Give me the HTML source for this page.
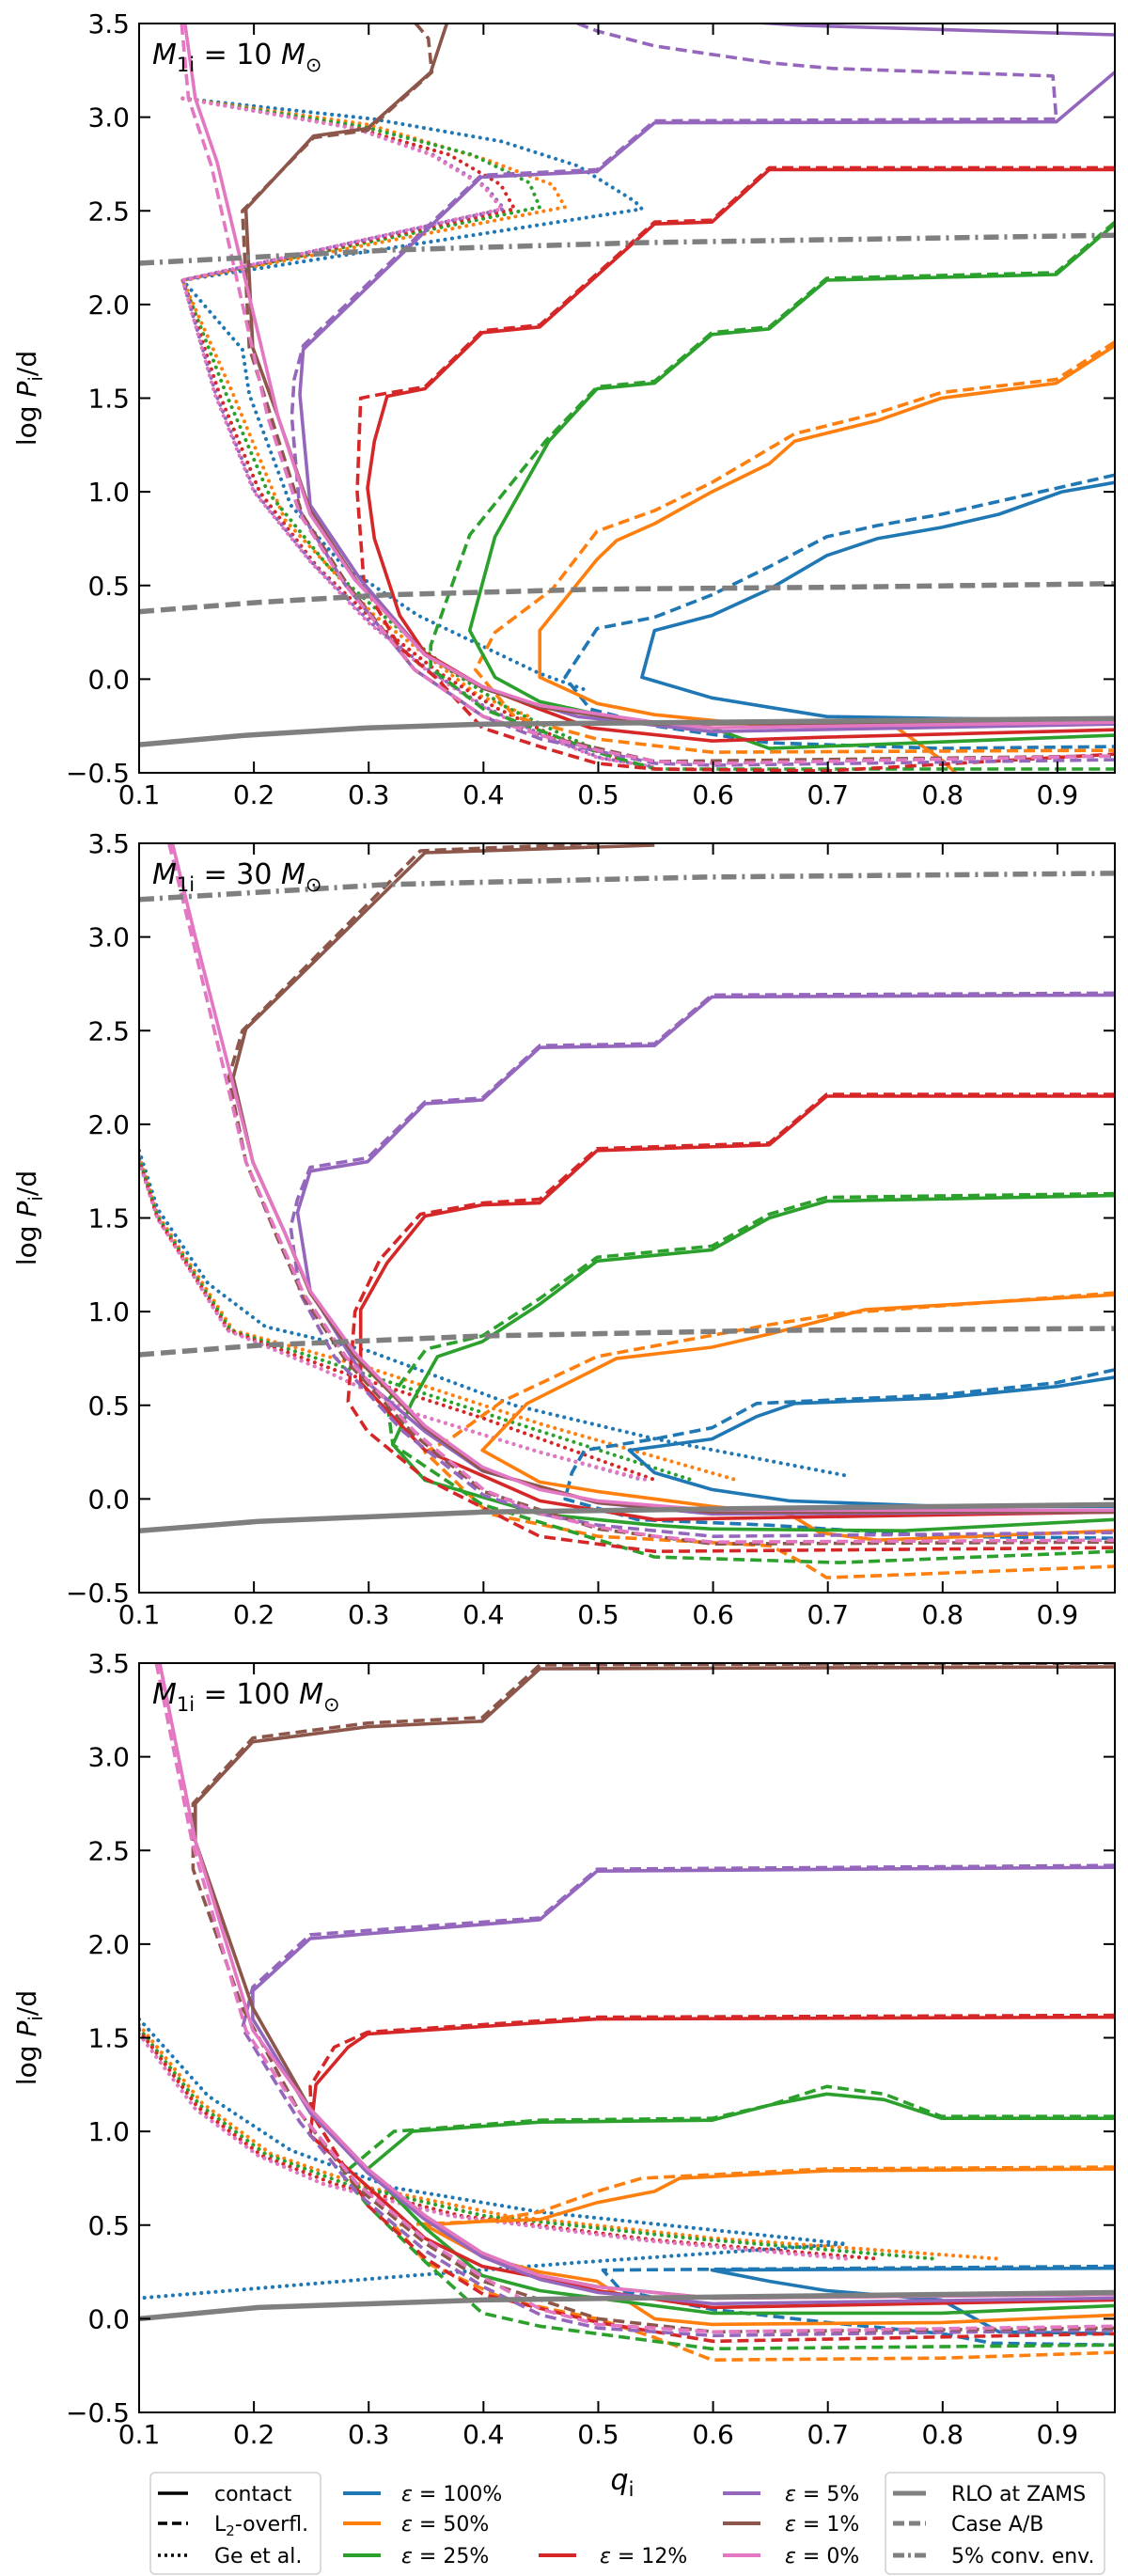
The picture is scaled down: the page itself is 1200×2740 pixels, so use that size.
<!DOCTYPE html>
<html><head><meta charset="utf-8">
<style>
html,body{margin:0;padding:0;background:#fff;}
svg{display:block;font-family:"DejaVu Sans","Liberation Sans",sans-serif;}
</style></head>
<body>
<svg id="fig" width="1200" height="2740" viewBox="0 0 1200 2740" xmlns="http://www.w3.org/2000/svg"></svg>
<script>
// ---------- data: x ticks / y ticks ----------
const xTicks = [0.1,0.2,0.3,0.4,0.5,0.6,0.7,0.8,0.9];
const yTicks = [-0.5,0.0,0.5,1.0,1.5,2.0,2.5,3.0,3.5];
const panelMasses = [10,30,100];

// ---------- panel 1 (10 Msun) ----------
const p1_zams = [[.1,-.35],[.193,-.3],[.299,-.26],[.399,-.24],[.599,-.23],[.95,-.21]];
const p1_caseAB = [[.1,.36],[.204,.41],[.316,.45],[.5,.48],[.7,.49],[.95,.51]];
const p1_conv = [[.1,2.22],[.316,2.29],[.538,2.33],[.95,2.37]];
const p1_blue_c = [[.95,1.05],[.904,1.0],[.849,.88],[.799,.81],[.743,.75],[.699,.66],[.649,.48],[.599,.34],[.549,.26],[.538,.01],[.599,-.1],[.649,-.15],[.699,-.2],[.799,-.21],[.95,-.22]];
const p1_blue_l = [[.95,1.09],[.9,1.02],[.799,.88],[.743,.82],[.699,.76],[.649,.6],[.599,.45],[.549,.33],[.499,.27],[.471,.01],[.493,-.16],[.55,-.25],[.649,-.34],[.799,-.37],[.95,-.36]];
const p1_blue_g = [[.138,3.1],[.304,2.99],[.416,2.87],[.482,2.74],[.532,2.55],[.538,2.51],[.138,2.13],[.19,1.76],[.196,1.52],[.232,.93],[.277,.61],[.343,.34],[.449,.03],[.49,-.06]];
const p1_orange_c = [[.95,1.78],[.899,1.58],[.799,1.5],[.743,1.38],[.671,1.27],[.649,1.15],[.599,1.0],[.549,.83],[.516,.74],[.499,.64],[.449,.26],[.449,.01],[.499,-.13],[.549,-.19],[.649,-.25],[.76,-.26],[.799,-.43],[.82,-.55]];
const p1_orange_l = [[.95,1.8],[.899,1.6],[.799,1.53],[.743,1.42],[.671,1.31],[.599,1.05],[.549,.9],[.499,.79],[.46,.48],[.41,.25],[.393,.05],[.427,-.2],[.499,-.32],[.599,-.39],[.95,-.38]];
const p1_orange_g = [[.138,3.1],[.3,2.96],[.404,2.77],[.46,2.64],[.471,2.52],[.138,2.13],[.182,1.52],[.227,.85],[.305,.34],[.394,-.08],[.44,-.2]];
const p1_green_c = [[.95,2.43],[.899,2.16],[.699,2.13],[.649,1.87],[.599,1.84],[.549,1.58],[.499,1.55],[.457,1.27],[.41,.76],[.388,.26],[.41,.01],[.449,-.12],[.516,-.21],[.599,-.26],[.649,-.37],[.95,-.3]];
const p1_green_l = [[.95,2.44],[.899,2.17],[.699,2.14],[.649,1.88],[.599,1.85],[.549,1.59],[.499,1.56],[.454,1.27],[.388,.77],[.354,.18],[.354,.06],[.4,-.16],[.499,-.39],[.55,-.48],[.95,-.48]];
const p1_green_g = [[.138,3.1],[.295,2.95],[.39,2.8],[.44,2.65],[.449,2.52],[.138,2.13],[.176,1.52],[.212,1.0],[.265,.6],[.32,.3],[.37,.05],[.42,-.15],[.47,-.3],[.5,-.38]];
const p1_red_c = [[.95,2.72],[.649,2.72],[.599,2.44],[.549,2.43],[.449,1.88],[.399,1.85],[.349,1.55],[.316,1.51],[.305,1.27],[.299,1.02],[.305,.75],[.327,.34],[.349,.14],[.399,-.04],[.449,-.16],[.493,-.26],[.599,-.33],[.699,-.31],[.95,-.27]];
const p1_red_l = [[.95,2.73],[.649,2.73],[.599,2.45],[.549,2.44],[.449,1.89],[.399,1.86],[.349,1.56],[.31,1.52],[.293,1.5],[.29,1.0],[.296,.5],[.327,.17],[.36,0.0],[.399,-.26],[.449,-.36],[.499,-.45],[.549,-.48],[.699,-.49],[.95,-.4]];
const p1_red_g = [[.138,3.1],[.29,2.94],[.37,2.8],[.415,2.64],[.427,2.51],[.138,2.13],[.17,1.52],[.205,1.0],[.255,.6],[.31,.28],[.36,.04],[.41,-.15],[.46,-.3],[.52,-.43]];
const p1_purple_c = [[.95,3.24],[.899,2.975],[.549,2.97],[.499,2.71],[.398,2.68],[.243,1.76],[.24,1.52],[.249,.93],[.293,.53],[.349,.13],[.405,-.06],[.482,-.2],[.599,-.28],[.95,-.24]];
const p1_purple_top = [[.6,3.52],[.677,3.49],[.95,3.44]];
const p1_purple_l = [[.482,3.5],[.499,3.46],[.549,3.38],[.649,3.29],[.704,3.26],[.896,3.22],[.899,2.99],[.549,2.98],[.499,2.72],[.398,2.69],[.243,1.78],[.235,1.6],[.233,1.4],[.24,.9],[.28,.5],[.34,.05],[.4,-.2],[.45,-.32],[.55,-.45],[.6,-.46],[.95,-.43]];
const p1_purple_g = [[.138,3.1],[.288,2.94],[.356,2.8],[.402,2.63],[.418,2.51],[.138,2.13],[.167,1.52],[.201,1.0],[.251,.62],[.302,.3],[.352,.05],[.402,-.15],[.452,-.3],[.502,-.42],[.55,-.47]];
const p1_brown_c = [[.368,3.5],[.354,3.24],[.299,2.94],[.252,2.9],[.193,2.51],[.199,1.77],[.221,1.4],[.249,.9],[.29,.52],[.349,.13],[.4,-.05],[.45,-.15],[.55,-.24],[.95,-.23]];
const p1_brown_l = [[.341,3.5],[.352,3.42],[.355,3.24],[.299,2.93],[.252,2.89],[.19,2.5],[.196,1.77],[.215,1.4],[.242,.88],[.282,.5],[.34,.05],[.4,-.2],[.45,-.3],[.55,-.44],[.95,-.41]];
const p1_pink_c = [[.14,3.5],[.149,3.1],[.168,2.76],[.221,1.4],[.249,.88],[.288,.53],[.349,.13],[.399,-.04],[.449,-.14],[.549,-.23],[.599,-.26],[.95,-.23]];
const p1_pink_l = [[.137,3.5],[.143,3.1],[.163,2.74],[.212,1.4],[.24,.88],[.28,.5],[.34,.05],[.4,-.2],[.45,-.3],[.5,-.38],[.55,-.44],[.6,-.45],[.95,-.41]];
const p1_pink_g = [[.138,3.1],[.288,2.94],[.354,2.8],[.4,2.63],[.416,2.51],[.138,2.13],[.166,1.52],[.2,1.0],[.25,.62],[.3,.3],[.35,.05],[.4,-.15],[.45,-.3],[.5,-.42],[.55,-.47]];

// ---------- panel 2 (30 Msun) ----------
const p2_zams = [[.1,-.17],[.204,-.12],[.399,-.07],[.65,-.05],[.95,-.03]];
const p2_caseAB = [[.1,.77],[.204,.82],[.399,.87],[.65,.9],[.95,.91]];
const p2_conv = [[.1,3.2],[.316,3.28],[.593,3.32],[.95,3.34]];
const p2_blue_c = [[.95,.65],[.899,.6],[.799,.54],[.671,.51],[.638,.44],[.599,.32],[.527,.26],[.549,.14],[.599,.05],[.666,-.01],[.799,-.04],[.95,-.04]];
const p2_blue_l = [[.95,.69],[.899,.62],[.799,.556],[.638,.51],[.599,.38],[.549,.32],[.488,.26],[.477,.14],[.471,.0],[.534,-.11],[.65,-.14],[.799,-.2],[.95,-.21]];
const p2_blue_g = [[.1,1.86],[.116,1.55],[.16,1.15],[.21,.92],[.3,.79],[.427,.5],[.55,.32],[.72,.12]];
const p2_orange_c = [[.95,1.09],[.732,1.01],[.649,.88],[.599,.81],[.516,.75],[.438,.51],[.399,.26],[.449,.09],[.499,.04],[.599,-.04],[.666,-.08],[.693,-.18],[.743,-.22],[.95,-.17]];
const p2_orange_l = [[.95,1.1],[.71,.99],[.649,.93],[.499,.76],[.416,.52],[.371,.32],[.349,.25],[.405,-.08],[.5,-.2],[.65,-.25],[.675,-.33],[.699,-.42],[.95,-.36]];
const p2_orange_g = [[.1,1.83],[.116,1.52],[.182,.9],[.3,.7],[.45,.4],[.621,.1]];
const p2_green_c = [[.95,1.62],[.699,1.59],[.649,1.5],[.599,1.33],[.549,1.3],[.499,1.27],[.449,1.04],[.399,.84],[.36,.76],[.338,.52],[.321,.29],[.349,.1],[.449,-.08],[.549,-.14],[.599,-.16],[.766,-.17],[.95,-.11]];
const p2_green_l = [[.95,1.63],[.699,1.61],[.649,1.52],[.599,1.35],[.549,1.32],[.499,1.29],[.449,1.07],[.399,.87],[.35,.8],[.316,.52],[.321,.29],[.399,-.03],[.549,-.31],[.71,-.34],[.95,-.28]];
const p2_green_g = [[.1,1.82],[.116,1.51],[.18,.9],[.28,.7],[.42,.42],[.582,.1]];
const p2_red_c = [[.95,2.15],[.699,2.15],[.649,1.89],[.499,1.86],[.449,1.58],[.399,1.57],[.349,1.51],[.316,1.26],[.293,1.01],[.293,.62],[.349,.26],[.449,-.01],[.549,-.11],[.95,-.07]];
const p2_red_l = [[.95,2.16],[.699,2.16],[.649,1.9],[.499,1.87],[.449,1.6],[.399,1.58],[.345,1.52],[.31,1.28],[.288,1.0],[.282,.52],[.299,.36],[.349,.11],[.449,-.2],[.549,-.28],[.95,-.26]];
const p2_red_g = [[.1,1.81],[.116,1.5],[.178,.9],[.27,.69],[.4,.43],[.55,.1]];
const p2_purple_c = [[.95,2.69],[.599,2.68],[.549,2.42],[.449,2.41],[.399,2.13],[.349,2.11],[.299,1.8],[.249,1.75],[.238,1.53],[.249,1.11],[.299,.62],[.349,.36],[.399,.15],[.499,-.02],[.599,-.08],[.95,-.07]];
const p2_purple_l = [[.95,2.7],[.599,2.69],[.549,2.43],[.449,2.42],[.399,2.14],[.349,2.12],[.299,1.82],[.249,1.77],[.238,1.6],[.232,1.45],[.24,1.1],[.27,.76],[.33,.36],[.4,.02],[.45,-.08],[.5,-.14],[.6,-.2],[.95,-.18]];
const p2_purple_g = [[.1,1.8],[.116,1.5],[.177,.9],[.26,.69],[.343,.45],[.449,.25],[.54,.1]];
const p2_brown_c = [[.549,3.49],[.349,3.45],[.193,2.51],[.182,2.25],[.199,1.8],[.227,1.42],[.249,1.1],[.288,.76],[.349,.38],[.4,.15],[.5,-.02],[.6,-.07],[.95,-.07]];
const p2_brown_l = [[.5,3.5],[.345,3.46],[.19,2.5],[.178,2.25],[.193,1.8],[.22,1.4],[.243,1.08],[.28,.74],[.34,.34],[.4,.04],[.5,-.16],[.6,-.24],[.95,-.23]];
const p2_pink_c = [[.129,3.5],[.149,3.0],[.199,1.8],[.227,1.42],[.249,1.11],[.288,.78],[.349,.39],[.399,.17],[.449,.05],[.499,-.01],[.599,-.06],[.95,-.06]];
const p2_pink_l = [[.126,3.5],[.146,3.0],[.193,1.8],[.22,1.42],[.243,1.1],[.28,.76],[.34,.36],[.4,.05],[.45,-.08],[.5,-.15],[.55,-.2],[.6,-.23],[.95,-.22]];
const p2_pink_g = [[.1,1.8],[.116,1.5],[.177,.9],[.26,.69],[.343,.45],[.449,.25],[.543,.1]];

// ---------- panel 3 (100 Msun) ----------
const p3_zams = [[.1,0],[.204,.06],[.399,.1],[.65,.12],[.95,.14]];
const p3_blue_c = [[.95,.27],[.599,.26],[.649,.2],[.699,.15],[.799,.1],[.849,-.07],[.95,-.08]];
const p3_blue_l = [[.95,.28],[.504,.26],[.52,.15],[.599,.05],[.7,-.02],[.8,-.08],[.843,-.13],[.95,-.14]];
const p3_blue_g = [[.1,1.6],[.16,1.19],[.232,.9],[.321,.7],[.449,.57],[.716,.4],[.482,.3],[.316,.22],[.1,.11]];
const p3_orange_c = [[.95,.8],[.699,.79],[.571,.75],[.549,.68],[.499,.62],[.449,.53],[.399,.52],[.349,.5],[.4,.33],[.449,.25],[.499,.2],[.549,.0],[.599,-.03],[.799,-.02],[.95,.02]];
const p3_orange_l = [[.95,.81],[.699,.8],[.538,.75],[.499,.68],[.449,.57],[.399,.52],[.322,.5],[.35,.3],[.42,.1],[.499,.0],[.549,-.1],[.599,-.22],[.8,-.21],[.95,-.18]];
const p3_orange_g = [[.1,1.57],[.155,1.15],[.215,.88],[.3,.7],[.42,.55],[.6,.43],[.849,.32]];
const p3_green_c = [[.95,1.07],[.799,1.07],[.749,1.17],[.699,1.2],[.649,1.14],[.599,1.06],[.449,1.05],[.338,1.0],[.299,.8],[.35,.48],[.399,.23],[.449,.15],[.599,.03],[.799,.03],[.95,.07]];
const p3_green_l = [[.95,1.08],[.799,1.08],[.749,1.2],[.699,1.24],[.649,1.14],[.599,1.07],[.449,1.06],[.322,1.0],[.277,.77],[.3,.6],[.35,.3],[.399,.03],[.449,-.04],[.599,-.16],[.95,-.14]];
const p3_green_g = [[.1,1.55],[.153,1.14],[.21,.88],[.28,.72],[.4,.55],[.58,.43],[.793,.32]];
const p3_red_c = [[.95,1.61],[.499,1.6],[.299,1.52],[.282,1.45],[.254,1.25],[.249,.98],[.3,.7],[.349,.43],[.399,.28],[.449,.22],[.499,.15],[.599,.06],[.95,.1]];
const p3_red_l = [[.95,1.62],[.499,1.61],[.299,1.53],[.27,1.45],[.249,1.24],[.25,1.1],[.3,.6],[.35,.32],[.4,.13],[.5,-.02],[.6,-.12],[.95,-.08]];
const p3_red_g = [[.1,1.54],[.151,1.13],[.207,.87],[.27,.72],[.38,.55],[.55,.42],[.743,.32]];
const p3_purple_c = [[.95,2.41],[.499,2.39],[.449,2.13],[.249,2.03],[.199,1.75],[.199,1.6],[.249,1.1],[.299,.78],[.349,.53],[.399,.33],[.449,.21],[.5,.14],[.6,.08],[.95,.11]];
const p3_purple_l = [[.95,2.42],[.499,2.4],[.449,2.14],[.249,2.05],[.199,1.77],[.19,1.55],[.24,1.05],[.29,.67],[.35,.36],[.4,.17],[.45,.02],[.5,-.05],[.6,-.09],[.95,-.06]];
const p3_purple_g = [[.1,1.52],[.149,1.12],[.204,.87],[.26,.72],[.371,.55],[.538,.42],[.72,.32]];
const p3_brown_c = [[.95,3.48],[.449,3.47],[.399,3.19],[.299,3.16],[.199,3.08],[.149,2.75],[.149,2.55],[.199,1.66],[.249,1.12],[.299,.8],[.349,.55],[.399,.35],[.449,.23],[.5,.17],[.6,.11],[.95,.13]];
const p3_brown_l = [[.95,3.5],[.449,3.49],[.399,3.21],[.299,3.18],[.199,3.1],[.147,2.75],[.147,2.4],[.19,1.66],[.24,1.1],[.29,.7],[.35,.4],[.4,.2],[.5,.0],[.6,-.07],[.95,-.05]];
const p3_pink_c = [[.118,3.5],[.149,2.55],[.199,1.54],[.249,1.12],[.299,.8],[.349,.55],[.399,.35],[.449,.23],[.499,.17],[.599,.11],[.95,.13]];
const p3_pink_l = [[.115,3.5],[.146,2.55],[.193,1.54],[.24,1.1],[.29,.72],[.35,.42],[.4,.22],[.45,.05],[.5,-.03],[.6,-.07],[.95,-.04]];
const p3_pink_g = [[.1,1.52],[.149,1.12],[.204,.87],[.26,.72],[.371,.55],[.538,.42],[.716,.32]];

// ---------- styling (not data) ----------
const C = {blue:'#1f77b4',orange:'#ff7f0e',green:'#2ca02c',red:'#d62728',purple:'#9467bd',brown:'#8c564b',pink:'#e377c2',gray:'#7f7f7f'};
const PL = 148, PR = 1186, PH = 797;
const panelTops = [25, 897, 1769];
const NS = 'http://www.w3.org/2000/svg';
const svg = document.getElementById('fig');

function mk(tag, attrs, parent){
  const e = document.createElementNS(NS, tag);
  for (const k in attrs) e.setAttribute(k, attrs[k]);
  (parent||svg).appendChild(e);
  return e;
}
function xs(q){ return PL + (q-0.1)/0.85*(PR-PL); }
function ys(top, v){ return top + (3.5-v)/4.0*PH; }

const panels = [
  {series:[
    ['blue','g',p1_blue_g],['orange','g',p1_orange_g],['green','g',p1_green_g],['red','g',p1_red_g],['purple','g',p1_purple_g],['pink','g',p1_pink_g],
    ['blue','l',p1_blue_l],['blue','c',p1_blue_c],['orange','l',p1_orange_l],['orange','c',p1_orange_c],['green','l',p1_green_l],['green','c',p1_green_c],
    ['red','l',p1_red_l],['red','c',p1_red_c],['purple','l',p1_purple_l],['purple','c',p1_purple_c],['purple','c',p1_purple_top],
    ['brown','l',p1_brown_l],['brown','c',p1_brown_c],['pink','l',p1_pink_l],['pink','c',p1_pink_c],
    ['gray','zams',p1_zams],['gray','caseAB',p1_caseAB],['gray','conv',p1_conv]]},
  {series:[
    ['blue','g',p2_blue_g],['orange','g',p2_orange_g],['green','g',p2_green_g],['red','g',p2_red_g],['purple','g',p2_purple_g],['pink','g',p2_pink_g],
    ['blue','l',p2_blue_l],['blue','c',p2_blue_c],['orange','l',p2_orange_l],['orange','c',p2_orange_c],['green','l',p2_green_l],['green','c',p2_green_c],
    ['red','l',p2_red_l],['red','c',p2_red_c],['purple','l',p2_purple_l],['purple','c',p2_purple_c],
    ['brown','l',p2_brown_l],['brown','c',p2_brown_c],['pink','l',p2_pink_l],['pink','c',p2_pink_c],
    ['gray','zams',p2_zams],['gray','caseAB',p2_caseAB],['gray','conv',p2_conv]]},
  {series:[
    ['blue','g',p3_blue_g],['orange','g',p3_orange_g],['green','g',p3_green_g],['red','g',p3_red_g],['purple','g',p3_purple_g],['pink','g',p3_pink_g],
    ['blue','l',p3_blue_l],['blue','c',p3_blue_c],['orange','l',p3_orange_l],['orange','c',p3_orange_c],['green','l',p3_green_l],['green','c',p3_green_c],
    ['red','l',p3_red_l],['red','c',p3_red_c],['purple','l',p3_purple_l],['purple','c',p3_purple_c],
    ['brown','l',p3_brown_l],['brown','c',p3_brown_c],['pink','l',p3_pink_l],['pink','c',p3_pink_c],
    ['gray','zams',p3_zams]]}
];

const styleFor = {
  c:{w:3.6,d:null}, l:{w:3.6,d:'12,6'}, g:{w:4,d:'0.1,7.5'},
  zams:{w:5.5,d:null}, caseAB:{w:5.5,d:'16,7'}, conv:{w:5.5,d:'16,6,3,6'}
};

panels.forEach((p, pi) => {
  const top = panelTops[pi];
  const bottom = top + PH;
  const g = mk('g', {});
  
  
  const cp = mk('clipPath', {id:'clip'+pi}, g);
  mk('rect', {x:PL, y:top, width:PR-PL, height:PH}, cp);
  const plot = mk('g', {'clip-path':'url(#clip'+pi+')'}, g);
  
  
  p.series.forEach(s => {
    const [col, kind, data] = s;
    const st = styleFor[kind];
    const pts = data.map(d => xs(d[0]).toFixed(1)+','+ys(top,d[1]).toFixed(1)).join(' ');
    const pl = mk('polyline', {points:pts, fill:'none', stroke:C[col], 'stroke-width':st.w, 'stroke-linejoin':'round', 'stroke-linecap': kind==='g' ? 'round':'butt'}, plot);
    if (st.d) pl.setAttribute('stroke-dasharray', st.d);
    
    
  });
  const fr = mk('rect', {x:PL, y:top, width:PR-PL, height:PH, fill:'none', stroke:'#000', 'stroke-width':2}, g);
  
  
  xTicks.forEach(t => {
    const x = xs(t);
    mk('line', {x1:x, x2:x, y1:bottom, y2:bottom-12, stroke:'#000', 'stroke-width':2}, g);
    mk('line', {x1:x, x2:x, y1:top, y2:top+12, stroke:'#000', 'stroke-width':2}, g);
    const tl = mk('text', {x:x, y:bottom+33, 'font-size':28, 'text-anchor':'middle', fill:'#000'}, g);
    tl.textContent = t.toFixed(1);
    
    
  });
  yTicks.forEach(t => {
    const y = ys(top, t);
    mk('line', {x1:PL, x2:PL+12, y1:y, y2:y, stroke:'#000', 'stroke-width':2}, g);
    mk('line', {x1:PR, x2:PR-12, y1:y, y2:y, stroke:'#000', 'stroke-width':2}, g);
    const tl = mk('text', {x:PL-10, y:y+10, 'font-size':28, 'text-anchor':'end', fill:'#000'}, g);
    tl.textContent = (t < 0 ? '\u2212' : '') + Math.abs(t).toFixed(1);
    
    
  });
  const yt = mk('text', {transform:'translate(38,'+(top+PH/2)+') rotate(-90)', 'font-size':28, 'text-anchor':'middle', fill:'#000'}, g);
  yt.innerHTML = 'log <tspan font-style="italic">P</tspan><tspan font-size="20" dy="7">i</tspan><tspan dy="-7">/d</tspan>';
  
  
  const an = mk('text', {x:162, y:top+43, 'font-size':30, fill:'#000'}, g);
  an.innerHTML = '<tspan font-style="italic">M</tspan><tspan font-size="21" dy="8">1i</tspan><tspan dy="-8"> = ' + panelMasses[pi] + ' </tspan><tspan font-style="italic">M</tspan><tspan font-size="21" dy="8">\u2299</tspan>';
  
  
});

const xt = mk('text', {x:662, y:2648, 'font-size':30, 'text-anchor':'middle', fill:'#000'});
xt.innerHTML = '<tspan font-style="italic">q</tspan><tspan font-size="21" dy="7">i</tspan>';



// ---------- legend ----------
const legendRows = [2652, 2684, 2718];
function legendBox(x, y, w, h, name){
  const r = mk('rect', {x:x, y:y, width:w, height:h, rx:5, fill:'#fff', stroke:'#d0d0d0', 'stroke-width':1.5});
  
  
}
legendBox(160, 2630, 181, 108, 'legend-linestyle-box');
legendBox(942, 2630, 233, 108, 'legend-reference-box');
function legendEntry(x1, x2, tx, y, col, dash, w, label){
  const ln = mk('line', {x1:x1, x2:x2, y1:y, y2:y, stroke:col, 'stroke-width':w});
  if (dash) ln.setAttribute('stroke-dasharray', dash);
  
  
  const t = mk('text', {x:tx, y:y+8, 'font-size':22, fill:'#000'});
  t.innerHTML = label;
  
  
}
legendEntry(168, 200, 228, legendRows[0], '#000', null, 3.5, 'contact');
legendEntry(168, 200, 228, legendRows[1], '#000', '10,5', 3.5, 'L<tspan font-size="15" dy="5">2</tspan><tspan dy="-5">-overfl.</tspan>');
legendEntry(168, 200, 228, legendRows[2], '#000', '3,4', 3.5, 'Ge et al.');
const eps = '<tspan font-style="italic">\u03b5</tspan> = ';
legendEntry(365, 405, 427, legendRows[0], C.blue, null, 4, eps+'100%');
legendEntry(365, 405, 427, legendRows[1], C.orange, null, 4, eps+'50%');
legendEntry(365, 405, 427, legendRows[2], C.green, null, 4, eps+'25%');
legendEntry(573, 613, 638, legendRows[2], C.red, null, 4, eps+'12%');
legendEntry(769, 809, 835, legendRows[0], C.purple, null, 4, eps+'5%');
legendEntry(769, 809, 835, legendRows[1], C.brown, null, 4, eps+'1%');
legendEntry(769, 809, 835, legendRows[2], C.pink, null, 4, eps+'0%');
legendEntry(950, 985, 1012, legendRows[0], C.gray, null, 5, 'RLO at ZAMS');
legendEntry(950, 985, 1012, legendRows[1], C.gray, '12,5', 5, 'Case A/B');
legendEntry(950, 985, 1012, legendRows[2], C.gray, '12,4,3,4', 5, '5% conv. env.');
</script>
</body></html>
